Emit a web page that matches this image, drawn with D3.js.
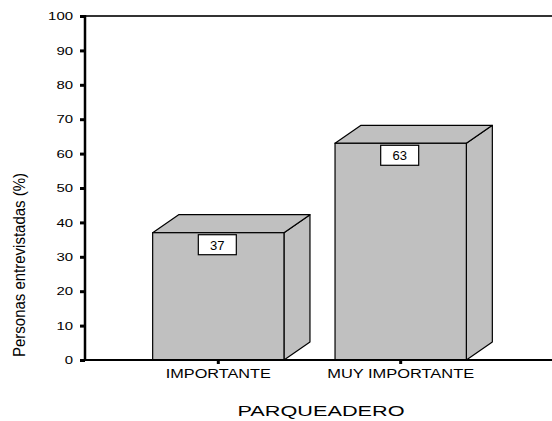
<!DOCTYPE html>
<html><head><meta charset="utf-8">
<script src="https://cdn.jsdelivr.net/npm/d3@7"></script>
<style>body{margin:0;background:#fff}svg{display:block}text{font-family:"Liberation Sans",Arial,sans-serif}</style>
</head><body>
<svg id="c" width="552" height="421"></svg>
<script>
const categories = ["IMPORTANTE", "MUY IMPORTANTE"];
const values = [37, 63];
const yTicks = [0,10,20,30,40,50,60,70,80,90,100];
const yTitle = "Personas entrevistadas (%)";
const xTitle = "PARQUEADERO";

const svg = d3.select("#c");
const W = 552;
const x0 = 85, yBase = 360, yTop = 16;
const dx = 26, dy = 18;

const x = d3.scaleBand().domain(categories).range([85, 534]).paddingInner(0.28).paddingOuter(0.371);
const y = d3.scaleLinear().domain([0, 100]).range([yBase, yTop]);

// top frame line
svg.append("line").attr("x1", x0).attr("x2", W).attr("y1", yTop).attr("y2", yTop)
  .attr("stroke", "#333").attr("stroke-width", 2);

// bars
const g = svg.append("g");
categories.forEach((c, i) => {
  const v = values[i];
  const xl = x(c), xr = x(c) + x.bandwidth(), yt = y(v), yb = y(0);
  g.append("path").attr("d", `M${xr},${yb} L${xr+dx},${yb-dy} L${xr+dx},${yt-dy} L${xr},${yt} Z`)
    .attr("fill", "#c0c0c0").attr("stroke", "#000").attr("stroke-width", 1.2).attr("stroke-linejoin", "round");
  g.append("path").attr("d", `M${xl},${yt} L${xl+dx},${yt-dy} L${xr+dx},${yt-dy} L${xr},${yt} Z`)
    .attr("fill", "#c0c0c0").attr("stroke", "#000").attr("stroke-width", 1.2).attr("stroke-linejoin", "round");
  g.append("rect").attr("x", xl).attr("y", yt).attr("width", x.bandwidth()).attr("height", yb - yt)
    .attr("fill", "#c0c0c0").attr("stroke", "#000").attr("stroke-width", 1.2);
  const cx = xl + x.bandwidth() / 2 - 1;
  g.append("rect").attr("x", cx - 19).attr("y", yt + 2).attr("width", 38).attr("height", 20)
    .attr("fill", "#fff").attr("stroke", "#000").attr("stroke-width", 1.2);
  g.append("text").attr("x", cx).attr("y", yt + 17).attr("text-anchor", "middle")
    .attr("font-size", 13).text(v);
});

// y axis
const ya = svg.append("g").attr("transform", `translate(${x0},0)`)
  .call(d3.axisLeft(y).tickValues(yTicks).tickSize(5).tickPadding(7).tickFormat(d3.format("d")));
ya.select(".domain").remove();
ya.selectAll(".tick line").attr("stroke", "#000").attr("stroke-width", 3);
ya.selectAll(".tick text").attr("font-size", 11.5).attr("fill", "#000")
  .attr("font-family", '"Liberation Sans",Arial,sans-serif')
  .each(function(d){ const n = String(d).length; d3.select(this).attr("textLength", n*8.3).attr("lengthAdjust","spacingAndGlyphs"); });
svg.append("line").attr("x1", x0).attr("x2", x0).attr("y1", yTop - 1).attr("y2", yBase + 1)
  .attr("stroke", "#000").attr("stroke-width", 2.5);

// x axis
const xa = svg.append("g").attr("transform", `translate(0,${yBase})`)
  .call(d3.axisBottom(x).tickSize(4).tickPadding(5));
xa.select(".domain").remove();
xa.selectAll(".tick line").attr("stroke", "#000").attr("stroke-width", 3);
const xLens = {"IMPORTANTE": 105, "MUY IMPORTANTE": 147};
xa.selectAll(".tick text").attr("font-size", 12).attr("fill", "#000")
  .attr("font-family", '"Liberation Sans",Arial,sans-serif')
  .attr("textLength", d => xLens[d]).attr("lengthAdjust", "spacingAndGlyphs");
svg.append("line").attr("x1", x0).attr("x2", W).attr("y1", yBase).attr("y2", yBase)
  .attr("stroke", "#000").attr("stroke-width", 2);

// titles
svg.append("text").attr("x", 321).attr("y", 416).attr("text-anchor", "middle")
  .attr("font-size", 14).attr("textLength", 167).attr("lengthAdjust", "spacingAndGlyphs").text(xTitle);
svg.append("text").attr("transform", "translate(25,265) rotate(-90)").attr("text-anchor", "middle")
  .attr("font-size", 16.5).attr("textLength", 184).attr("lengthAdjust", "spacingAndGlyphs").text(yTitle);
</script>
</body></html>
